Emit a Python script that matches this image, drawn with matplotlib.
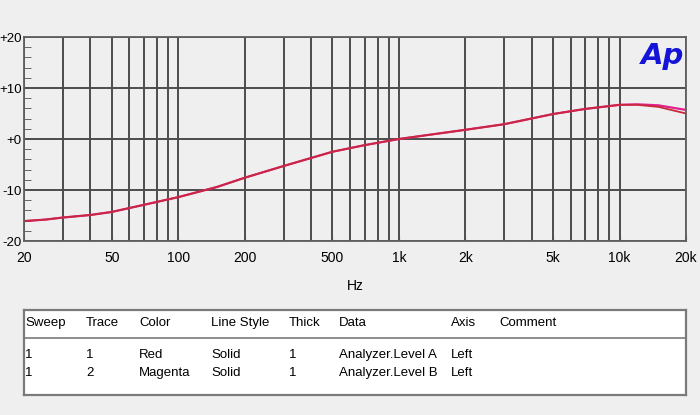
import numpy as np
import matplotlib.pyplot as plt
from matplotlib.ticker import FixedLocator, NullFormatter

plt.rcParams['font.family'] = ['Liberation Sans', 'DejaVu Sans']

# frequency response (Hz, dB)
freq = [20, 25, 30, 40, 50, 70, 100, 150, 200, 300, 500, 700, 1000,
        2000, 3000, 5000, 7000, 10000, 12000, 15000, 20000]
level_a = [-16.1, -15.8, -15.4, -14.9, -14.3, -12.9, -11.4, -9.4, -7.6, -5.3, -2.5,
           -1.2, 0.0, 1.8, 2.9, 4.9, 5.9, 6.7, 6.7, 6.3, 5.0]
level_b = [-16.1, -15.8, -15.4, -14.9, -14.3, -12.9, -11.4, -9.4, -7.6, -5.3, -2.5,
           -1.2, 0.0, 1.8, 2.9, 4.9, 5.9, 6.7, 6.8, 6.6, 5.7]

xtick_vals = [20, 50, 100, 200, 500, 1000, 2000, 5000, 10000, 20000]
xtick_labels = ['20', '50', '100', '200', '500', '1k', '2k', '5k', '10k', '20k']
ytick_vals = [20, 10, 0, -10, -20]
ytick_labels = ['+20', '+10', '+0', '-10', '-20']

table_header = ['Sweep', 'Trace', 'Color', 'Line Style', 'Thick', 'Data', 'Axis', 'Comment']
table_rows = [['1', '1', 'Red', 'Solid', '1', 'Analyzer.Level A', 'Left', ''],
              ['1', '2', 'Magenta', 'Solid', '1', 'Analyzer.Level B', 'Left', '']]
col_x = [25, 86, 139, 211, 289, 339, 451, 499]

bg = '#efefef'
fig = plt.figure(figsize=(7, 4.15), dpi=100, facecolor=bg)

ax = fig.add_axes([24/700, 1-241/415, 662/700, 204/415])
ax.set_facecolor(bg)
ax.set_xscale('log')
ax.set_xlim(20, 20000)
ax.set_ylim(-20, 20)

minor = [m*10**e for e in range(1, 5) for m in range(1, 10)]
minor = [v for v in minor if 20 <= v <= 20000 and v not in xtick_vals]
ax.xaxis.set_major_locator(FixedLocator(xtick_vals))
ax.xaxis.set_minor_locator(FixedLocator(minor))
ax.xaxis.set_minor_formatter(NullFormatter())
ax.set_xticklabels(xtick_labels)
ax.set_yticks(ytick_vals)
ax.set_yticklabels(ytick_labels)
ax.yaxis.set_minor_locator(FixedLocator([v for v in range(-18, 20, 2) if v % 10]))

ax.grid(True, which='both', axis='x', color='#4c4c4c', linewidth=1.4)
ax.grid(True, which='major', axis='y', color='#4c4c4c', linewidth=1.4)
ax.tick_params(axis='x', which='both', direction='in', length=4, color='#505050',
               labelsize=10, pad=7)
ax.tick_params(axis='y', which='major', length=0, labelsize=9.5, pad=1.5)
ax.tick_params(axis='y', which='minor', direction='in', length=5, color='#505050')
for s in ax.spines.values():
    s.set_color('#606060')
    s.set_linewidth(1.3)

ax.plot(freq, level_b, color='#e0208c', linewidth=1.6)
ax.plot(freq, level_a, color='#c8283c', linewidth=1.3)
ax.set_xlabel('Hz', fontsize=10, labelpad=10)

fig.text(684/700, 1-56/415, 'Ap', color='#1414d8', fontsize=21, fontweight='bold',
         fontstyle='italic', ha='right', va='center', family='DejaVu Sans')

# legend table
tb = fig.add_axes([24/700, 1-395/415, 662/700, 85/415])
tb.set_facecolor('white')
tb.set_xlim(24, 686)
tb.set_ylim(395, 310)
tb.set_xticks([])
tb.set_yticks([])
for s in tb.spines.values():
    s.set_color('#7a7a7a')
    s.set_linewidth(1.6)
tb.axhline(338, color='#7a7a7a', linewidth=1.2)
for x, h in zip(col_x, table_header):
    tb.text(x, 323, h, fontsize=9.5, va='center', ha='left')
for r, y in zip(table_rows, [355, 373]):
    for x, v in zip(col_x, r):
        tb.text(x, y, v, fontsize=9.5, va='center', ha='left')

fig.savefig('out.png', dpi=100, facecolor=bg)
